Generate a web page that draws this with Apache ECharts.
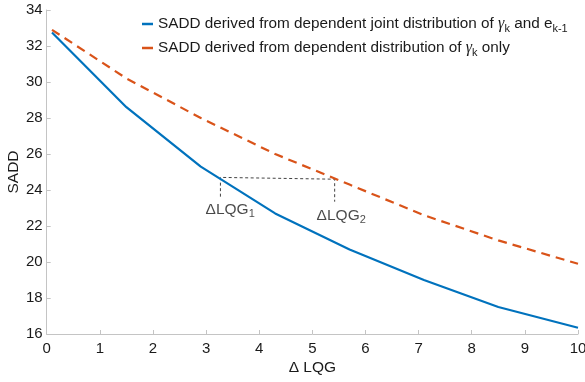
<!DOCTYPE html>
<html>
<head>
<meta charset="utf-8">
<script src="https://cdn.jsdelivr.net/npm/echarts@6/dist/echarts.min.js"></script>
<style>
  html, body { margin: 0; padding: 0; background: #fff; }
  #chart { width: 585px; height: 382px; }
</style>
</head>
<body>
<div id="chart"></div>
<script>
// ΔLQG values where SADD was evaluated
const deltaLQG = [0.1, 1.5, 2.9, 4.3, 5.7, 7.1, 8.5, 10];
// SADD from the joint distribution of gamma_k and e_{k-1}
const sadJoint = [32.75, 28.6, 25.3, 22.7, 20.7, 19.0, 17.5, 16.35];
// SADD from the distribution of gamma_k alone
const sadGammaOnly = [32.9, 30.2, 28.0, 26.0, 24.3, 22.6, 21.2, 19.9];

// Guide path linking equal SADD on both curves
const guidePath = [[3.27, 23.63], [3.27, 24.7], [5.42, 24.6], [5.42, 23.35]];
// Guide labels: [x, y, subscript]
const guideLabels = [[2.99, 22.92, '1'], [5.08, 22.56, '2']];

const xTicks = { min: 0, max: 10, interval: 1 };
const yTicks = { min: 16, max: 34, interval: 2 };

const FONT = 'Liberation Sans';
const TXT = '#1a1a1a';
const AXIS = '#c4c4c4';

const legendNames = ['joint', 'gammaOnly'];
const legendText = {
  joint: 'SADD derived from dependent joint distribution of {g|γ}{s|k} and e{s|k-1}',
  gammaOnly: 'SADD derived from dependent distribution of {g|γ}{s|k} only'
};

const chart = echarts.init(document.getElementById('chart'), null, { renderer: 'canvas' });

chart.setOption({
  animation: false,
  backgroundColor: '#fff',
  textStyle: { fontFamily: FONT },
  grid: { left: 46.7, right: 7, top: 10, bottom: 48, outerBoundsMode: 'none', containLabel: false },
  legend: {
    data: legendNames,
    orient: 'vertical',
    left: 137,
    top: 9,
    icon: 'rect',
    itemWidth: 11,
    itemHeight: 2.5,
    itemGap: 4,
    formatter: n => legendText[n],
    textStyle: {
      fontFamily: FONT, fontSize: 15.3, color: TXT, lineHeight: 20,
      rich: {
        g: { fontFamily: 'Liberation Serif', fontStyle: 'italic', fontSize: 16, color: TXT, lineHeight: 20 },
        s: { fontFamily: FONT, fontSize: 11, color: TXT, lineHeight: 10, verticalAlign: 'bottom' }
      }
    }
  },
  xAxis: {
    type: 'value',
    min: xTicks.min, max: xTicks.max, interval: xTicks.interval,
    name: 'Δ LQG',
    nameLocation: 'middle',
    nameGap: 26,
    nameMoveOverlap: false,
    nameTextStyle: { fontFamily: FONT, fontSize: 15.5, color: TXT },
    axisLine: { lineStyle: { color: AXIS, width: 1 } },
    axisTick: { inside: true, length: 4, lineStyle: { color: AXIS } },
    axisLabel: { fontFamily: FONT, fontSize: 15, color: TXT, margin: 7 },
    splitLine: { show: false }
  },
  yAxis: {
    type: 'value',
    min: yTicks.min, max: yTicks.max, interval: yTicks.interval,
    name: 'SADD',
    nameLocation: 'middle',
    nameGap: 25,
    nameMoveOverlap: false,
    nameTextStyle: { fontFamily: FONT, fontSize: 15.5, color: TXT },
    axisLine: { show: true, lineStyle: { color: AXIS, width: 1 } },
    axisTick: { show: true, inside: true, length: 4, lineStyle: { color: AXIS } },
    axisLabel: { fontFamily: FONT, fontSize: 15, color: TXT, margin: 4 },
    splitLine: { show: false }
  },
  series: [
    {
      name: 'joint',
      type: 'line',
      data: deltaLQG.map((x, i) => [x, sadJoint[i]]),
      symbol: 'none',
      color: '#0072BD',
      lineStyle: { width: 2.2, color: '#0072BD' },
      z: 3
    },
    {
      name: 'gammaOnly',
      type: 'line',
      data: deltaLQG.map((x, i) => [x, sadGammaOnly[i]]),
      symbol: 'none',
      color: '#D95319',
      lineStyle: { width: 2.2, color: '#D95319', type: [9, 6] },
      z: 3
    },
    {
      name: 'guide',
      type: 'line',
      data: guidePath,
      symbol: 'none',
      silent: true,
      lineStyle: { width: 1, color: '#444', type: [3, 2.5] },
      z: 2
    },
    {
      name: 'guideLabels',
      type: 'scatter',
      data: guideLabels.map(d => ({ value: [d[0], d[1]], sub: d[2] })),
      symbolSize: 0,
      silent: true,
      label: {
        show: true,
        position: 'right',
        distance: 0,
        formatter: p => '{t|ΔLQG}{s|' + p.data.sub + '}',
        rich: {
          t: { fontFamily: FONT, fontSize: 15.5, color: TXT, lineHeight: 20 },
          s: { fontFamily: FONT, fontSize: 11, color: TXT, lineHeight: 10, verticalAlign: 'bottom' }
        }
      }
    }
  ]
});
</script>
</body>
</html>
